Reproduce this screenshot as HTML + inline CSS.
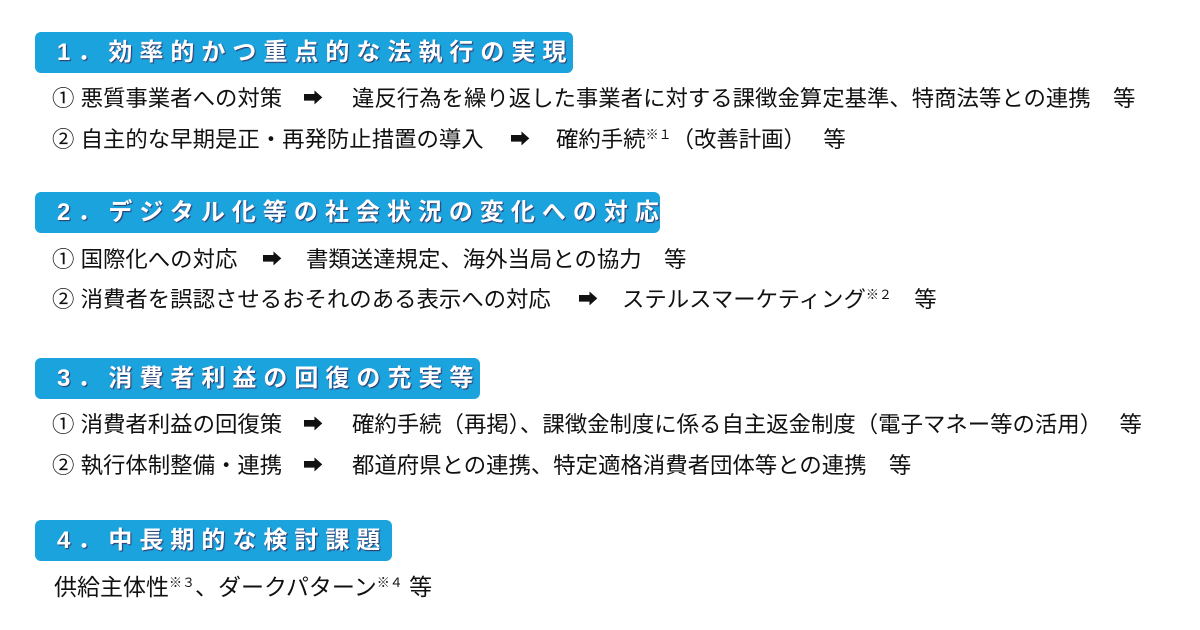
<!DOCTYPE html>
<html><head><meta charset="utf-8"><style>
body{margin:0;width:1200px;height:630px;background:#fff;position:relative;overflow:hidden;font-family:"Liberation Sans","Noto Sans CJK JP",sans-serif;color:#111}
.b{position:absolute;left:35px;height:41px;background:#1ba3dd;border-radius:6px;color:#fff;font-weight:bold;font-size:24px;line-height:41px;padding-left:22px;letter-spacing:7px;text-shadow:1px 1px 1px #336;box-sizing:border-box;white-space:nowrap}
.t{position:absolute;font-size:22.4px;line-height:24px;white-space:nowrap}
.a{position:absolute;font-size:20px;line-height:24px}
sup{font-size:13px;line-height:0;position:relative;top:-8px;vertical-align:baseline}
</style></head><body>
<div class="b" style="top:32px;width:538px">1．効率的かつ重点的な法執行の実現</div>
<div class="t" style="left:52px;top:87px">① 悪質事業者への対策</div><div class="a" style="left:303px;top:87px">➡</div>
<div class="t" style="left:352px;top:87px">違反行為を繰り返した事業者に対する課徴金算定基準、特商法等との連携　等</div>
<div class="t" style="left:52px;top:128px">② 自主的な早期是正・再発防止措置の導入</div><div class="a" style="left:510px;top:128px">➡</div>
<div class="t" style="left:556px;top:128px">確約手続<sup>※１</sup>（改善計画）　 等</div>

<div class="b" style="top:192px;width:625px">2．デジタル化等の社会状況の変化への対応</div>
<div class="t" style="left:52px;top:248px">① 国際化への対応</div><div class="a" style="left:262px;top:248px">➡</div>
<div class="t" style="left:306px;top:248px">書類送達規定、海外当局との協力　等</div>
<div class="t" style="left:52px;top:288px">② 消費者を誤認させるおそれのある表示への対応</div><div class="a" style="left:578px;top:288px">➡</div>
<div class="t" style="left:622px;top:288px">ステルスマーケティング<sup>※２</sup>　等</div>

<div class="b" style="top:358px;width:445px">3．消費者利益の回復の充実等</div>
<div class="t" style="left:52px;top:413px">① 消費者利益の回復策</div><div class="a" style="left:303px;top:413px">➡</div>
<div class="t" style="left:352px;top:413px">確約手続（再掲）、課徴金制度に係る自主返金制度（電子マネー等の活用）　 等</div>
<div class="t" style="left:52px;top:454px">② 執行体制整備・連携</div><div class="a" style="left:303px;top:454px">➡</div>
<div class="t" style="left:352px;top:454px">都道府県との連携、特定適格消費者団体等との連携　等</div>

<div class="b" style="top:520px;width:357px">4．中長期的な検討課題</div>
<div class="t" style="left:54px;top:575px;font-size:23px">供給主体性<sup>※３</sup>、ダークパターン<sup>※４</sup> 等</div>
</body></html>
